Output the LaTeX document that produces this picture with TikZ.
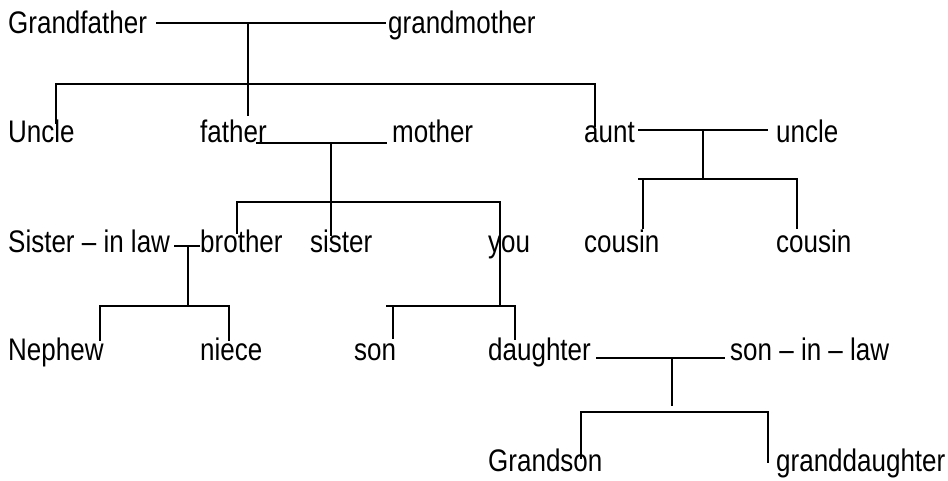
\documentclass[tikz,border=0pt]{standalone}
\usepackage{fontspec}
\setmainfont{Liberation Sans}
\newcommand{\tallt}[1]{\scalebox{1}[1.2]{#1}}
\begin{document}
\begin{tikzpicture}[x=1pt,y=-1pt,
  lbl/.style={anchor=base west,inner sep=0pt,font=\fontsize{26}{30}\selectfont},
  ln/.style={line width=1.3pt,line cap=rect}]
\useasboundingbox (0,0) rectangle (948,480);
% row 1
\node[lbl] (gf) at (8,33) {\tallt{Grandfather}};
\node[lbl] (gm) at (388,33) {\tallt{grandmother}};
% row 2
\node[lbl] (u1) at (8,142) {\tallt{Uncle}};
\node[lbl] (fa) at (200,142) {\tallt{father}};
\node[lbl] (mo) at (392,142) {\tallt{mother}};
\node[lbl] (au) at (584,142) {\tallt{aunt}};
\node[lbl] (u2) at (776,142) {\tallt{uncle}};
% row 3
\node[lbl] (sil) at (8,252) {\tallt{Sister – in law}};
\node[lbl] (br) at (200,252) {\tallt{brother}};
\node[lbl] (si) at (310,252) {\tallt{sister}};
\node[lbl] (yo) at (488,252) {\tallt{you}};
\node[lbl] (c1) at (584,252) {\tallt{cousin}};
\node[lbl] (c2) at (776,252) {\tallt{cousin}};
% row 4
\node[lbl] (ne) at (8,360) {\tallt{Nephew}};
\node[lbl] (ni) at (200,360) {\tallt{niece}};
\node[lbl] (so) at (354,360) {\tallt{son}};
\node[lbl] (da) at (488,360) {\tallt{daughter}};
\node[lbl] (sl) at (730,360) {\tallt{son – in – law}};
% row 5
\node[lbl] (gs) at (488,471) {\tallt{Grandson}};
\node[lbl] (gd) at (776,471) {\tallt{granddaughter}};

% grandparents
\coordinate (gpL) at (157,23);
\coordinate (gpR) at (385,23);
\coordinate (gpM) at (248,23);
\coordinate (gpB) at (248,115);
\coordinate (k1L) at (56,84);
\coordinate (k1R) at (595,84);
\coordinate (k1Le) at (56,123);
\coordinate (k1Re) at (595,126);
\draw[ln] (gpL) -- (gpR);
\draw[ln] (gpM) -- (gpB);
\draw[ln] (k1L) -- (k1R);
\draw[ln] (k1L) -- (k1Le);
\draw[ln] (k1R) -- (k1Re);

% father - mother
\coordinate (fmL) at (257,143);
\coordinate (fmR) at (386,143);
\coordinate (fmM) at (331,143);
\coordinate (fmB) at (331,235);
\coordinate (k2L) at (237,202);
\coordinate (k2R) at (500,202);
\coordinate (k2Le) at (237,233);
\coordinate (k2Re) at (500,306);
\draw[ln] (fmL) -- (fmR);
\draw[ln] (fmM) -- (fmB);
\draw[ln] (k2L) -- (k2R);
\draw[ln] (k2L) -- (k2Le);
\draw[ln] (k2R) -- (k2Re);

% aunt - uncle
\coordinate (auL) at (639,130);
\coordinate (auR) at (767,130);
\coordinate (auM) at (703,130);
\coordinate (auB) at (703,179);
\coordinate (k3L) at (639,179);
\coordinate (k3R) at (797,179);
\coordinate (k3a) at (643,179);
\coordinate (k3Le) at (643,228);
\coordinate (k3Re) at (797,228);
\draw[ln] (auL) -- (auR);
\draw[ln] (auM) -- (auB);
\draw[ln] (k3L) -- (k3R);
\draw[ln] (k3a) -- (k3Le);
\draw[ln] (k3R) -- (k3Re);

% sister-in-law - brother
\coordinate (sbL) at (175,246);
\coordinate (sbR) at (199,246);
\coordinate (sbM) at (188,246);
\coordinate (sbB) at (188,306);
\coordinate (k4L) at (100,306);
\coordinate (k4R) at (229,306);
\coordinate (k4Le) at (100,340);
\coordinate (k4Re) at (229,340);
\draw[ln] (sbL) -- (sbR);
\draw[ln] (sbM) -- (sbB);
\draw[ln] (k4L) -- (k4R);
\draw[ln] (k4L) -- (k4Le);
\draw[ln] (k4R) -- (k4Re);

% you -> son, daughter
\coordinate (k5L) at (387,306);
\coordinate (k5R) at (515,306);
\coordinate (k5a) at (393,306);
\coordinate (k5Le) at (393,338);
\coordinate (k5Re) at (515,339);
\draw[ln] (k5L) -- (k5R);
\draw[ln] (k5a) -- (k5Le);
\draw[ln] (k5R) -- (k5Re);

% daughter - son-in-law
\coordinate (dsL) at (597,358);
\coordinate (dsR) at (724,358);
\coordinate (dsM) at (672,358);
\coordinate (dsB) at (672,405);
\coordinate (k6L) at (581,412);
\coordinate (k6R) at (768,412);
\coordinate (k6Le) at (581,458);
\coordinate (k6Re) at (768,462);
\draw[ln] (dsL) -- (dsR);
\draw[ln] (dsM) -- (dsB);
\draw[ln] (k6L) -- (k6R);
\draw[ln] (k6L) -- (k6Le);
\draw[ln] (k6R) -- (k6Re);
\end{tikzpicture}
\end{document}
